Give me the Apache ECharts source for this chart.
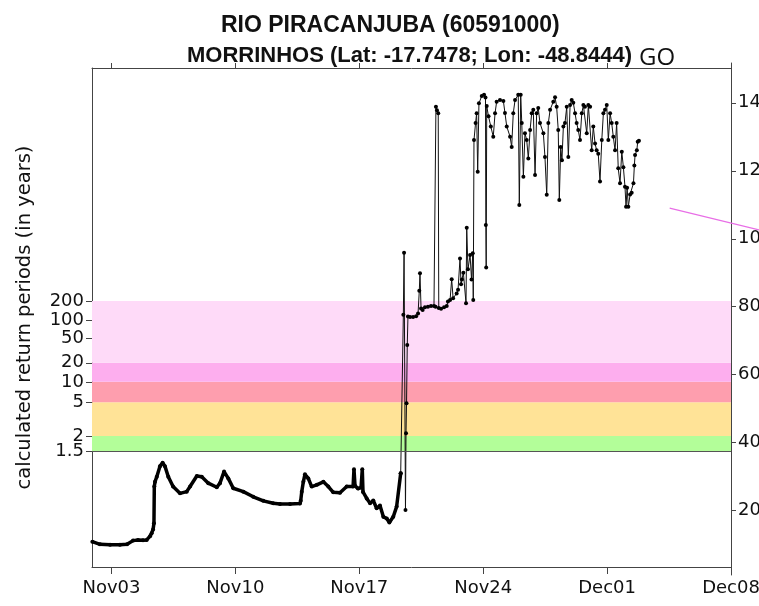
<!DOCTYPE html>
<html>
<head>
<meta charset="utf-8">
<script src="https://cdn.jsdelivr.net/npm/echarts@6/dist/echarts.min.js"></script>
<style>html,body{margin:0;padding:0;background:#fff}#c{width:759px;height:606px}</style>
</head>
<body>
<div id="c"></div>
<script>
// time in days since Nov 01 00:00
const days = [0.92,1.35,1.92,2.48,2.88,3.22,3.50,3.78,3.99,4.18,4.27,4.35,4.40,4.42,4.46,4.56,4.74,4.89,5.02,5.21,5.48,5.87,6.25,6.44,6.82,7.10,7.47,7.95,8.13,8.36,8.60,8.88,9.45,10.01,10.58,11.14,11.52,12.09,12.65,12.69,12.75,12.84,12.93,13.12,13.31,13.60,13.97,14.25,14.53,14.91,15.29,15.65,15.70,15.76,15.93,16.10,16.17,16.21,16.42,16.61,16.79,16.98,17.17,17.36,17.55,17.70,17.92,18.11,18.34,
18.49,18.53,18.61,18.64,18.67,18.71,18.75,18.87,19.04,19.21,19.32,19.39,19.43,19.49,19.58,19.71,19.88,20.05,20.22,20.31,20.33,20.39,20.46,20.49,20.62,20.79,20.94,21.01,21.13,21.22,21.30,21.50,21.58,21.69,21.75,21.80,21.88,22.03,22.07,22.14,22.26,22.34,22.41,22.44,22.48,22.57,22.63,22.69,22.76,22.92,23.05,23.13,23.15,23.17,23.20,23.30,23.43,23.57,23.67,23.76,23.95,24.14,24.23,24.33,24.52,24.61,24.70,24.80,24.98,25.04,25.12,25.18,25.27,25.36,25.46,25.55,25.65,25.74,25.83,25.93,26.02,26.11,26.21,26.40,26.49,26.59,26.68,26.78,26.96,27.06,27.15,27.24,27.30,27.38,27.45,27.53,27.62,27.72,27.81,27.91,28.00,28.09,28.19,28.28,28.37,28.47,28.57,28.66,28.75,28.85,28.94,29.04,29.13,29.22,29.32,29.41,29.50,29.60,29.70,29.79,29.88,29.98,30.07,30.17,30.26,30.35,30.45,30.54,30.63,30.73,30.83,30.92,31.01,31.07,31.13,31.20,31.30,31.39,31.49,31.54,31.58,31.68,31.73,31.80];
// discharge (right-axis scale)
const flow = [10.9,10.1,10.0,10.0,10.1,11.2,11.4,11.3,11.4,12.5,13.4,14.5,16.3,27.1,28.5,30.0,33.1,34.1,33.1,30.0,27.1,25.1,25.6,27.1,30.2,30.0,28.1,26.9,28.1,31.5,29.5,26.6,25.6,24.1,22.9,22.2,22.0,22.0,22.1,22.9,25.6,28.5,30.7,29.5,27.1,27.6,28.5,27.1,25.4,25.3,27.1,27.1,32.2,27.3,26.5,26.8,32.2,25.5,23.6,22.2,23.0,20.7,21.5,18.2,17.7,16.5,18.2,21.2,31.0,
77.6,95.9,20.2,42.8,51.6,68.7,77.1,77.0,77.0,77.2,78.0,84.7,89.8,79.5,79.0,79.8,80.0,80.2,80.2,80.0,138.8,137.8,136.9,79.6,79.4,79.8,80.2,81.5,82.0,88.1,82.5,83.9,85.0,94.2,86.6,88.0,90.0,81.0,103.2,91.0,95.2,88.0,95.7,82.0,129,134,136.9,119.7,139.8,142.0,142.3,141.5,104,91.5,139,136,133,130,136.9,140.3,140.8,140.5,137,133,130,127,136.9,140.8,142.3,109.9,142.3,134,118.2,131,129,123.6,132,136.9,137.9,118.7,136.9,138.4,134,131,124,112.9,134,137.9,140.3,141.6,138.8,132,111.4,127,123.1,133,134,138.8,124,139.3,140.8,140,136.9,134,132,129,136.9,139.3,138.8,131,139.3,138.8,126,133,128,126,125,116.8,129,136.9,137.9,139.3,129,136.9,134,130,126,134,120.7,116.3,125.6,121,115.3,109.4,115,109.4,113,113.5,116.3,121.5,124.6,126,128.5,128.8];
const smoothEnd = 69; // points before the flood rise

// return-period classes (labels) and the discharge at which each sits
const rpLabels = ['1.5','2','5','10','20','50','100','200'];
const rpFlow = [37.4,42.0,51.9,57.9,63.5,70.6,76.1,81.7];
const bandColors = ['#b3fe99','#ffe397','#fe9eae','#fdaeee','#fedaf8'];

const rightTicks = [20,40,60,80,100,120,140];
const dateTickDays = [2,9,16,23,30,37];
const dateTickLabels = ['Nov03','Nov10','Nov17','Nov24','Dec01','Dec08'];

// magenta line of the underlying panel
const magDays = [33.55,38.6];
const magFlow = [109.0,102.6];

const pts = days.map((d,i)=>[d,flow[i]]);
// bands: 1.5-2, 2-5, 5-10, 10-20, 20-200
const bandBounds = [[rpFlow[0],rpFlow[1]],[rpFlow[1],rpFlow[2]],[rpFlow[2],rpFlow[3]],[rpFlow[3],rpFlow[4]],[rpFlow[4],rpFlow[7]]];
const bandData = bandBounds.map((b,i)=>[{yAxis:b[0],itemStyle:{color:bandColors[i],opacity:1}},{yAxis:b[1]}]);

function nearestIdx(arr, v){
  let best=0; for(let i=1;i<arr.length;i++){ if(Math.abs(arr[i]-v)<Math.abs(arr[best]-v)) best=i; } return best;
}

const FONT = '"Liberation Sans", Arial, sans-serif';
const FONT2 = '"DejaVu Sans", sans-serif';
const leftLabel = (vals)=>({show:true,customValues:vals,margin:8,fontFamily:FONT2,fontSize:18,color:'#111',
  hideOverlap:false,showMinLabel:true,showMaxLabel:true,formatter:v=>rpLabels[nearestIdx(rpFlow,v)]});

const chart = echarts.init(document.getElementById('c'), null, {renderer:'canvas'});
chart.setOption({
  animation:false,
  backgroundColor:'#fff',
  title:[
    {text:'RIO PIRACANJUBA (60591000)', left:216, top:9, textStyle:{fontFamily:FONT,fontWeight:'bold',fontSize:23,color:'#111'}},
    {text:'MORRINHOS (Lat: -17.7478; Lon: -48.8444)', left:182, top:40, textStyle:{fontFamily:FONT,fontWeight:'bold',fontSize:22,color:'#111'}},
    {text:'GO', left:634, top:41, textStyle:{fontFamily:'"Open Sans", sans-serif',fontWeight:'normal',fontSize:24,color:'#111'}}
  ],
  grid:[
    {left:92, right:28, top:68, bottom:39, containLabel:false, outerBoundsMode:'none'},
    {left:92, right:28, top:63, bottom:31, containLabel:false, outerBoundsMode:'none'},
    {left:92, right:0, top:63, bottom:31, containLabel:false, outerBoundsMode:'none'}
  ],
  xAxis:[
    {type:'value', gridIndex:0, min:0.9, max:37, position:'bottom',
      axisLine:{show:true,onZero:false,lineStyle:{color:'#444',width:1}},
      axisTick:{show:true,length:7,lineStyle:{color:'#444'},customValues:dateTickDays},
      axisLabel:{show:true,customValues:dateTickDays,margin:12,fontFamily:FONT2,fontSize:18,color:'#111',
        hideOverlap:false,showMinLabel:true,showMaxLabel:true,
        formatter:v=>dateTickLabels[nearestIdx(dateTickDays,v)]},
      splitLine:{show:false}},
    {type:'value', gridIndex:0, min:0.9, max:37, position:'top',
      axisLine:{show:true,onZero:false,lineStyle:{color:'#444',width:1}},
      axisTick:{show:true,length:5,lineStyle:{color:'#444'},customValues:dateTickDays},
      axisLabel:{show:false}, splitLine:{show:false}},
    {type:'value', gridIndex:1, min:0.9, max:37, show:false},
    {type:'value', gridIndex:2, min:0.9, max:38.6, show:false}
  ],
  yAxis:[
    {type:'value', gridIndex:0, min:3.44, max:150.2, position:'left',
      name:'calculated return periods (in years)', nameLocation:'middle', nameGap:57, nameRotate:90,
      nameTextStyle:{fontFamily:FONT2,fontSize:19.5,color:'#111'},
      axisLine:{show:true,onZero:false,lineStyle:{color:'#444',width:1}},
      axisTick:{show:true,length:6,lineStyle:{color:'#444'},customValues:rpFlow.slice(1)},
      axisLabel:leftLabel(rpFlow.slice(1)),
      splitLine:{show:false}},
    {type:'value', gridIndex:1, min:1.09, max:151.7, position:'right',
      axisLine:{show:true,onZero:false,lineStyle:{color:'#444',width:1}},
      axisTick:{show:true,length:5,lineStyle:{color:'#444'},customValues:rightTicks},
      axisLabel:{show:true,customValues:rightTicks,margin:7,fontFamily:FONT2,fontSize:18,color:'#111',
        hideOverlap:false,showMinLabel:true,showMaxLabel:true},
      splitLine:{show:false}},
    {type:'value', gridIndex:2, min:1.09, max:151.7, show:false},
    {type:'value', gridIndex:0, min:3.44, max:150.2, position:'left', offset:0,
      axisLine:{show:false},
      axisTick:{show:true,length:6,lineStyle:{color:'#444'},customValues:rpFlow.slice(0,1)},
      axisLabel:leftLabel(rpFlow.slice(0,1)),
      splitLine:{show:false}}
  ],
  series:[
    {type:'line', xAxisIndex:0, yAxisIndex:0, data:[], silent:true,
      markArea:{silent:true, data:bandData},
      markLine:{silent:true, symbol:['none','none'], label:{show:false},
        lineStyle:{color:'#555',type:'solid',width:1.2}, data:[{yAxis:rpFlow[0]}]}},
    {type:'line', xAxisIndex:0, yAxisIndex:0, data:pts.slice(0,smoothEnd), silent:true,
      symbol:'circle', symbolSize:4, showAllSymbol:true,
      itemStyle:{color:'#000'}, lineStyle:{color:'#000',width:3.5}},
    {type:'line', xAxisIndex:0, yAxisIndex:0, data:pts.slice(smoothEnd-1), silent:true,
      symbol:'circle', symbolSize:4, showAllSymbol:true,
      itemStyle:{color:'#000'}, lineStyle:{color:'#111',width:1}},
    {type:'line', xAxisIndex:3, yAxisIndex:2, data:magDays.map((d,i)=>[d,magFlow[i]]), silent:true,
      symbol:'none', lineStyle:{color:'#e86ee6',width:1.2}}
  ]
});
</script>
</body>
</html>
